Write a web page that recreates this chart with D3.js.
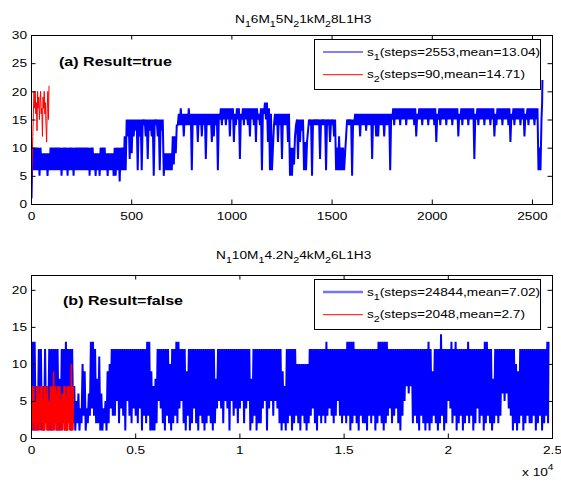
<!DOCTYPE html>
<html>
<head>
<meta charset="utf-8">
<script src="https://cdn.jsdelivr.net/npm/d3@7/dist/d3.min.js"></script>
<style>
body { margin: 0; background: #fff; }
text { font-family: "Liberation Sans", Arial, Helvetica, sans-serif; }
</style>
</head>
<body>
<svg id="chart" width="561" height="481"></svg>
<script>
// ---- panel (a): s1 read as max/min per 10-step bin, s2 read every 3 steps
var aS1Steps = 2553;
var aS1Bin = 10;
var aS1Hi = [10,10,10,10,10,9,9,9,9,10, 10,10,10,10,10,10,10,10,10,10, 10,10,10,10,10,10,10,10,10,10,
    10,9,9,9,10,10,10,9,9,9, 9,10,10,10,10,10,12,15,15,15, 15,15,15,15,15,15,15,15,15,15,
    15,15,15,15,15,15,9,9,9,9, 12,12,14,16,17,16,16,16,17,16, 16,16,16,16,16,16,16,16,16,16,
    16,16,16,16,17,17,17,17,17,17, 17,16,17,17,16,17,17,17,17,17, 17,17,17,16,17,17,18,18,17,16,
    10,16,16,16,16,16,16,16,16,10, 10,12,15,15,15,15,11,11,15,15, 15,15,15,15,15,15,15,15,15,15,
    15,15,10,12,10,10,9,15,15,15, 15,16,16,16,16,16,16,16,16,16, 16,16,16,16,16,16,16,16,16,16,
    17,17,17,17,17,17,17,17,17,17, 17,17,16,17,17,17,17,17,17,17, 17,17,16,17,17,17,17,17,17,17,
    17,17,17,16,17,17,17,17,17,17, 17,16,17,17,17,17,17,17,17,17, 17,16,17,17,17,17,17,17,17,16,
    17,17,17,17,17,17,16,17,17,17, 17,17,17,10,15,22];
var aS1Lo = [1,6,6,6,5,6,6,6,5,6, 6,6,6,6,6,5,6,6,5,6, 6,5,6,6,6,6,6,6,6,5,
    6,6,5,6,5,6,6,6,5,6, 6,5,5,6,4,6,6,6,12,8, 9,12,13,6,12,6,14,12,8,13,
    12,5,14,12,6,13,5,6,6,6, 6,7,9,14,14,14,12,14,14,14, 6,14,14,11,14,12,14,8,14,14,
    11,12,14,6,15,14,15,14,15,12, 15,11,14,15,8,15,14,15,14,12, 15,14,11,15,14,6,16,15,11,6,
    6,14,14,11,14,8,14,14,11,5, 5,7,14,8,11,13,6,6,13,14, 5,14,14,14,8,14,14,6,14,11,
    14,12,6,6,6,6,6,12,14,14, 5,14,14,14,12,14,14,13,14,14, 8,14,12,12,14,14,12,14,14,6,
    15,14,15,15,14,15,15,14,15,15, 15,14,12,15,15,14,15,15,14,15, 15,14,11,15,14,15,15,14,15,15,
    14,15,15,12,15,14,15,15,14,15, 15,8,15,14,15,15,14,15,15,14, 15,12,14,15,15,14,15,15,14,11,
    15,14,15,15,14,15,12,15,14,15, 15,14,15,6,6,18];
var aS2Every = 3;
var aS2 = [1,4,8,12,16,20,17,20,16,18,13,20,17,19,15,18,20,16,17,12,19,17,20,16,18,14,11,17,20,15,21];

// ---- panel (b): s1 max/min per 100-step bin, s2 max/min per 50-step bin
var bS1Steps = 24844;
var bS1Bin = 100;
var bS1Hi = [13,13,7,12,12,7,12,7,12,12, 12,12,12,8,12,12,13,12,12,12, 7,5,6,4,10,9,4,6,13,13,
    12,8,11,6,4,5,9,10,12,12, 12,12,12,12,12,12,12,12,12,12, 12,12,12,12,12,13,13,9,7,8,
    12,12,12,12,12,12,10,12,12,13, 13,12,12,12,9,12,12,12,12,12, 12,12,12,12,12,12,12,12,8,12,
    12,12,12,12,12,12,12,12,12,12, 12,12,12,12,12,8,12,12,12,12, 12,12,12,12,12,12,12,12,12,12,
    9,7,12,12,12,12,12,10,10,10, 10,10,10,12,12,12,12,12,12,12, 12,13,12,12,12,12,12,12,12,12,
    12,13,13,13,13,12,12,12,12,12, 12,12,12,12,12,12,13,13,13,13, 13,12,12,12,12,12,12,12,12,12,
    12,12,12,12,12,12,12,12,12,12, 13,12,9,12,12,12,14,12,12,12, 12,13,12,13,12,12,12,12,12,13,
    12,12,12,12,12,12,12,13,13,12, 12,8,12,12,12,12,12,12,12,12, 12,12,10,9,12,12,12,12,12,12,
    12,12,12,12,12,12,12,13,13];
var bS1Lo = [1,1,1,1,2,1,1,2,1,1, 1,2,1,1,1,2,1,1,2,1, 2,1,2,1,2,3,1,2,3,4,
    3,2,2,1,1,2,1,2,4,3, 3,5,2,4,3,1,5,3,2,4, 3,2,4,1,3,2,3,1,1,1,
    2,5,4,2,1,3,2,1,2,3, 2,4,5,2,1,3,1,2,4,2, 1,3,2,1,2,3,2,1,2,4,
    5,4,2,5,4,1,5,3,4,2, 4,5,2,4,5,1,2,3,1,2, 2,4,5,1,4,5,3,5,4,2,
    1,2,1,2,3,1,2,3,2,1, 3,2,1,2,3,4,2,1,3,2, 3,2,3,4,3,2,3,5,3,2,
    3,2,3,1,2,3,2,1,3,2, 2,1,3,2,3,1,2,3,2,1, 2,3,4,2,3,4,2,1,3,5,
    7,6,7,2,3,2,1,3,2,1, 2,1,2,3,2,1,2,3,1,2, 5,4,2,3,1,2,3,1,2,3,
    2,3,1,2,4,2,3,1,2,3, 2,1,2,3,2,3,6,5,6,4, 3,1,2,1,2,3,1,2,3,2,
    2,3,1,2,3,1,2,3,2];
var bS2Steps = 2048;
var bS2Bin = 50;
var bS2Hi = [7,7,7,5,5,7,7,6,7,7, 7,5,7,7,6,7,5,5,7,7, 7,9,7,7,6,7,7,7,5,6, 6,7,7,5,7,7,7,6,10,7,7];
var bS2Lo = [1,1,2,1,1,1,2,1,1,1, 2,1,1,1,2,1,1,1,2,1, 1,1,1,2,1,1,1,2,1,1, 1,2,1,1,1,1,2,1,1,1,1];

// ticks and labels
var aXTicks = [0, 500, 1000, 1500, 2000, 2500];
var aYTicks = [0, 5, 10, 15, 20, 25, 30];
var bXTicks = [0, 5000, 10000, 15000, 20000, 25000];
var bYTicks = [0, 5, 10, 15, 20];
var aTitle = [["N",0],["1",1],["6M",0],["1",1],["5N",0],["2",1],["1kM",0],["2",1],["8L1H3",0]];
var bTitle = [["N",0],["1",1],["10M",0],["1",1],["4.2N",0],["2",1],["4kM",0],["2",1],["6L1H3",0]];
var aLegend = [["1", "(steps=2553,mean=13.04)"], ["2", "(steps=90,mean=14.71)"]];
var bLegend = [["1", "(steps=24844,mean=7.02)"], ["2", "(steps=2048,mean=2.7)"]];

var SX = 1.19;   // picture is stretched a little sideways
var FS = 11.5;
var svg = d3.select("#chart");

// one polyline through min then max of each bin
var binPoints = function(hi, lo, size, total) {
    var pts = [];
    hi.forEach(function(h, i) {
        var start = i * size, w = Math.min(size, total - start);
        pts.push([start + w * 0.25, lo[i]]);
        pts.push([start + w * 0.75, h]);
    });
    return pts;
};

var richText = function(g, x, y, parts, size, subSize) {
    var t = g.append("text").attr("transform", "translate(" + x + "," + y + ") scale(" + SX + ",1)")
        .attr("font-size", size);
    var down = false;
    parts.forEach(function(p) {
        var dy = 0;
        if (p[1] && !down) { dy = 4; down = true; }
        else if (!p[1] && down) { dy = -4; down = false; }
        t.append("tspan").attr("dy", dy).attr("font-size", p[1] ? subSize : size).text(p[0]);
    });
    return t;
};

var drawPanel = function(p) {
    var L = 31, R = 552;
    var x = d3.scaleLinear().domain([0, p.xMax]).range([L, R]);
    var y = d3.scaleLinear().domain([0, p.yMax]).range([p.bottom, p.top]);
    var g = svg.append("g");

    g.append("clipPath").attr("id", "clip" + p.name).append("rect")
        .attr("x", L).attr("y", p.top).attr("width", R - L).attr("height", p.bottom - p.top);

    var line = d3.line().x(function(d) { return x(d[0]); }).y(function(d) { return y(d[1]); });
    p.series.forEach(function(s) {
        g.append("path").datum(s.points)
            .attr("clip-path", "url(#clip" + p.name + ")")
            .attr("fill", "none").attr("stroke", s.color).attr("stroke-width", s.width)
            .attr("stroke-linejoin", "bevel")
            .attr("d", line);
    });

    // inward ticks on all four sides
    var bx = g.append("g").attr("transform", "translate(0," + p.bottom + ")")
        .call(d3.axisBottom(x).tickValues(p.xTicks).tickSizeInner(-4.5).tickSizeOuter(0)
            .tickPadding(7.5).tickFormat(p.xFormat));
    var lx = g.append("g").attr("transform", "translate(" + L + ",0)")
        .call(d3.axisLeft(y).tickValues(p.yTicks).tickSizeInner(-4.5).tickSizeOuter(0));
    g.append("g").attr("transform", "translate(0," + p.top + ")")
        .call(d3.axisTop(x).tickValues(p.xTicks).tickSizeInner(-4.5).tickSizeOuter(0).tickFormat(""));
    g.append("g").attr("transform", "translate(" + R + ",0)")
        .call(d3.axisRight(y).tickValues(p.yTicks).tickSizeInner(-4.5).tickSizeOuter(0).tickFormat(""));
    g.selectAll(".domain").remove();
    g.selectAll(".tick text").attr("font-size", FS).attr("font-family", null).attr("fill", "#000");
    bx.selectAll(".tick text").attr("transform", "scale(" + SX + ",1)");
    lx.selectAll(".tick text").attr("x", -4 / SX).attr("transform", "scale(" + SX + ",1)");

    g.append("rect").attr("x", L + 0.5).attr("y", p.top + 0.5)
        .attr("width", R - L).attr("height", p.bottom - p.top)
        .attr("fill", "none").attr("stroke", "#000").attr("stroke-width", 1);

    richText(g, p.titleX, p.titleY, p.title, FS, 9);
    g.append("text").attr("transform", "translate(" + p.labelX + "," + p.labelY + ") scale(" + SX + ",1)")
        .attr("font-size", 13.5).attr("font-weight", "bold").text(p.label);

    // legend
    var lt = p.top + 4;
    var lg = g.append("g");
    lg.append("rect").attr("x", 314.5).attr("y", lt + 0.5).attr("width", 226).attr("height", 50)
        .attr("fill", "#fff").attr("stroke", "#000").attr("stroke-width", 1);
    p.legend.forEach(function(item, i) {
        var ly = lt + 13 + i * 22.7;
        var s = p.series[i];
        lg.append("line").attr("x1", 323).attr("x2", 363).attr("y1", ly).attr("y2", ly)
            .attr("stroke", s.color).attr("stroke-width", s.legendWidth || 1)
            .attr("stroke-opacity", s.legendOpacity || 1);
        richText(lg, 367, ly + 3.7, [["s", 0], [item[0], 1], [item[1], 0]], FS, 9);
    });
};

drawPanel({
    name: "a", top: 35, bottom: 204, xMax: 2600, yMax: 30,
    xTicks: aXTicks, yTicks: aYTicks, xFormat: d3.format("d"),
    title: aTitle, titleX: 235, titleY: 23,
    label: "(a) Result=true", labelX: 59, labelY: 65.5,
    legend: aLegend,
    series: [
        { color: "#0000ff", width: 2, points: binPoints(aS1Hi, aS1Lo, aS1Bin, aS1Steps) },
        { color: "#ff0000", width: 1, points: aS2.map(function(v, i) { return [i * aS2Every, v]; }) }
    ]
});

drawPanel({
    name: "b", top: 275, bottom: 438, xMax: 25000, yMax: 22,
    xTicks: bXTicks, yTicks: bYTicks, xFormat: function(d) { return d3.format("~g")(d / 10000); },
    title: bTitle, titleX: 216, titleY: 259,
    label: "(b) Result=false", labelX: 63, labelY: 304.5,
    legend: bLegend,
    series: [
        { color: "#0000ff", width: 2, points: binPoints(bS1Hi, bS1Lo, bS1Bin, bS1Steps), legendWidth: 2.5, legendOpacity: 0.55 },
        { color: "#ff0000", width: 1.6, points: binPoints(bS2Hi, bS2Lo, bS2Bin, bS2Steps) }
    ]
});

// x 10^4 exponent under the lower axis
var ex = svg.append("text").attr("transform", "translate(522,476) scale(" + SX + ",1)").attr("font-size", FS);
ex.append("tspan").text("x 10");
ex.append("tspan").attr("dy", -6).attr("font-size", 8.5).text("4");
</script>
</body>
</html>
